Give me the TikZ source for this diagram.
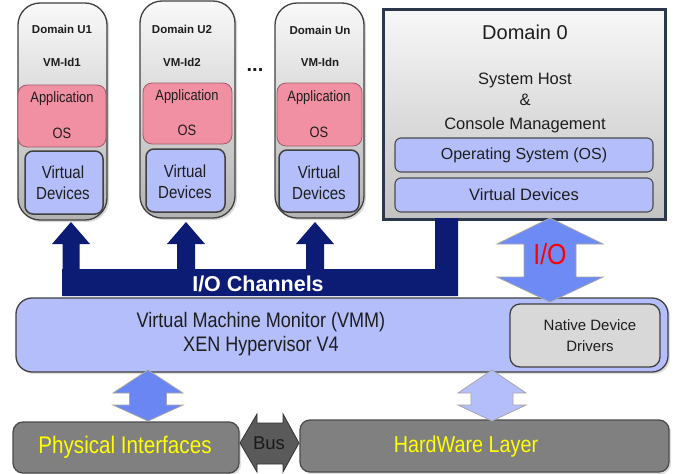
\documentclass[tikz,border=0pt]{standalone}
\usepackage{fontspec}
\setmainfont{Liberation Sans}
\newfontfamily\nsans{Liberation Sans}[FakeStretch=0.86]
\usetikzlibrary{shadows}
\definecolor{pinkfill}{RGB}{241,143,163}
\definecolor{lbfill}{RGB}{180,190,250}
\definecolor{navybar}{RGB}{12,28,116}
\definecolor{ioblue}{RGB}{110,139,245}
\definecolor{phyblue}{RGB}{106,134,242}
\definecolor{hwgray}{RGB}{128,128,128}
\definecolor{busgray}{RGB}{90,90,90}
\definecolor{ndgray}{RGB}{216,216,216}
\definecolor{dzborder}{RGB}{45,55,75}
\definecolor{txt}{RGB}{30,30,30}
\definecolor{hwyellow}{RGB}{255,255,0}
\newcommand\UpArw[6]{% cx, tip, headbase, bottom, headhalf, shafthalf
  \path[navyarrow] (#1,#2) -- ({#1+#5},#3) -- ({#1+#6},#3) -- ({#1+#6},#4) -- ({#1-#6},#4) -- ({#1-#6},#3) -- ({#1-#5},#3) -- cycle;}
\newcommand\DblArwV[8]{% style, cx, top, hb1, hb2, bottom, headhalf, shafthalf
  \path[#1] (#2,#3) -- ({#2+#7},#4) -- ({#2+#8},#4) -- ({#2+#8},#5) -- ({#2+#7},#5) -- (#2,#6) -- ({#2-#7},#5) -- ({#2-#8},#5) -- ({#2-#8},#4) -- ({#2-#7},#4) -- cycle;}
\tikzset{
  box/.style={anchor=north west, inner sep=0pt, outer sep=0pt},
  capsule/.style={box, draw=black!75, line width=1.3pt, rounded corners=22pt, top color=gray!5, bottom color=gray!60,
     drop shadow={opacity=0.3,shadow xshift=2pt,shadow yshift=-2pt}},
  pinkbox/.style={box, rounded corners=9pt, fill=pinkfill, draw=pinkfill!65!black, line width=0.8pt},
  vdbox/.style={box, rounded corners=8pt, fill=lbfill, draw=black!75, line width=1.5pt},
  dzbox/.style={box, rounded corners=6pt, fill=lbfill, draw=black!70, line width=1.1pt},
  lbl/.style={text=txt, inner sep=0pt, align=center},
  ulbl/.style={lbl, font=\fontsize{11.5}{13}\selectfont\bfseries},
  plbl/.style={lbl, font=\nsans\fontsize{15}{17}\selectfont},
  vlbl/.style={lbl, font=\nsans\fontsize{17.5}{20}\selectfont},
  navyarrow/.style={fill=navybar},
  ioarrow/.style={fill=ioblue, draw=gray!70, line width=0.8pt},
  phyarrow/.style={fill=phyblue, draw=gray!70, line width=0.8pt},
  hwarrow/.style={fill=lbfill, draw=gray!70, line width=0.8pt},
  busarrow/.style={fill=busgray, draw=black!80, line width=0.8pt},
  hwbox/.style={box, rounded corners=10pt, fill=hwgray, draw=black!70, line width=1.3pt,
     drop shadow={opacity=0.25,shadow xshift=2pt,shadow yshift=-2pt}},
  ylbl/.style={text=hwyellow, inner sep=0pt},
}
\begin{document}
\begin{tikzpicture}[x=1pt,y=-1pt]
\useasboundingbox (0,0) rectangle (675,474);
\fill[white] (0,0) rectangle (675,474);

% ---- Domain U capsules
\node[capsule, minimum width=89pt, minimum height=217pt] (u1) at (18,3) {};
\node[capsule, minimum width=95pt, minimum height=217pt] (u2) at (140,1) {};
\node[capsule, minimum width=89pt, minimum height=215pt] (un) at (275,3) {};

\node[pinkbox, minimum width=88pt, minimum height=62pt] (p1) at (18,85) {};
\node[pinkbox, minimum width=89pt, minimum height=61pt] (p2) at (143,83) {};
\node[pinkbox, minimum width=85pt, minimum height=63pt] (pn) at (277,83) {};

\node[vdbox, minimum width=78pt, minimum height=63pt] (v1) at (25,151) {};
\node[vdbox, minimum width=79pt, minimum height=63pt] (v2) at (146,149) {};
\node[vdbox, minimum width=80pt, minimum height=62pt] (vn) at (279,150) {};

\node[ulbl] (t1a) at (62,29) {Domain U1};
\node[ulbl] (t1b) at (62,62) {VM-Id1};
\node[plbl] (t1c) at (62,99) {Application};
\node[plbl] (t1d) at (62,133) {OS};
\node[vlbl] (t1e) at (63,172) {Virtual};
\node[vlbl] (t1f) at (63,193) {Devices};

\node[ulbl] (t2a) at (182,29) {Domain U2};
\node[ulbl] (t2b) at (182,62) {VM-Id2};
\node[plbl] (t2c) at (187,97) {Application};
\node[plbl] (t2d) at (187,130) {OS};
\node[vlbl] (t2e) at (185,171) {Virtual};
\node[vlbl] (t2f) at (185,192) {Devices};

\node[ulbl] (tna) at (320,30) {Domain Un};
\node[ulbl] (tnb) at (320,62) {VM-Idn};
\node[plbl] (tnc) at (319,98) {Application};
\node[plbl] (tnd) at (319,132) {OS};
\node[vlbl] (tne) at (319,172) {Virtual};
\node[vlbl] (tnf) at (319,193) {Devices};

\node[lbl, font=\fontsize{20}{22}\selectfont\bfseries] (dots) at (255,70) {...};

% ---- Domain 0
\node[box, minimum width=282pt, minimum height=210pt, top color=gray!6, bottom color=gray!48,
      draw=dzborder, line width=3pt, drop shadow={opacity=0.3,shadow xshift=2pt,shadow yshift=-2pt}] (d0) at (383,9) {};
\node[lbl, font=\fontsize{20}{22}\selectfont] (d0a) at (525,32) {Domain 0};
\node[lbl, font=\fontsize{16.5}{18}\selectfont] (d0b) at (525,80) {System Host};
\node[lbl, font=\fontsize{16.5}{18}\selectfont] (d0c) at (525,100) {\&};
\node[lbl, font=\fontsize{16.5}{18}\selectfont] (d0d) at (525,125) {Console Management};
\node[dzbox, minimum width=258pt, minimum height=34pt] (d0os) at (395,138) {};
\node[dzbox, minimum width=258pt, minimum height=34pt] (d0vd) at (395,178) {};
\node[lbl, font=\fontsize{16}{18}\selectfont] (d0ost) at (524,155) {Operating System (OS)};
\node[lbl, font=\fontsize{16.5}{18}\selectfont] (d0vdt) at (524,195) {Virtual Devices};

% ---- I/O channels
\path[navyarrow] (62,269) -- (435,269) -- (435,218) -- (458,218) -- (458,296) -- (62,296) -- cycle;
\UpArw{71}{222}{244}{270}{19}{8.5}
\UpArw{186}{222}{244}{270}{19}{9}
\UpArw{315}{222}{244}{270}{19}{9}
\node[inner sep=0pt, text=white, font=\fontsize{21.5}{23}\selectfont\bfseries] (ioc) at (258,284) {I/O Channels};

% ---- VMM
\node[box, minimum width=652pt, minimum height=74pt, rounded corners=16pt, fill=lbfill, draw=black!75, line width=1.3pt,
      drop shadow={opacity=0.25,shadow xshift=2pt,shadow yshift=-2pt}] (vmm) at (16,298) {};
\node[lbl, font=\nsans\fontsize{21}{23}\selectfont] (vmma) at (261,322) {Virtual Machine Monitor (VMM)};
\node[lbl, font=\nsans\fontsize{21}{23}\selectfont] (vmmb) at (261,346) {XEN Hypervisor V4};
\node[box, minimum width=150pt, minimum height=63pt, rounded corners=10pt, fill=ndgray, draw=black!75, line width=1.3pt] (ndd) at (510,304) {};
\node[lbl, font=\fontsize{15}{17}\selectfont] (ndda) at (590,325) {Native Device};
\node[lbl, font=\fontsize{15}{17}\selectfont] (nddb) at (590,346) {Drivers};

% ---- I/O double arrow
\DblArwV{ioarrow}{550}{218}{244}{277}{302}{53}{26}
\node[inner sep=0pt, text=red, font=\nsans\fontsize{29}{31}\selectfont] (io) at (550,254) {I/O};

% ---- Hardware
\node[hwbox, minimum width=226pt, minimum height=51pt] (phy) at (13,422) {};
\node[hwbox, minimum width=369pt, minimum height=52pt] (hw) at (300,420) {};
\node[ylbl, font=\nsans\fontsize{24}{26}\selectfont] (phyt) at (125,447) {Physical Interfaces};
\node[ylbl, font=\nsans\fontsize{23}{25}\selectfont] (hwt) at (466,447) {HardWare Layer};

\DblArwV{phyarrow}{148}{370}{393}{405}{421}{35}{18.5}
\DblArwV{hwarrow}{492}{370}{393}{405}{421}{34}{21}

% Bus
\path[busarrow] (240,443) -- (257,414) -- (257,423) -- (283,423) -- (283,414) -- (299,443)
   -- (283,472) -- (283,464) -- (257,464) -- (257,472) -- cycle;
\node[inner sep=0pt, text=black!90, font=\fontsize{18.5}{20}\selectfont] (bus) at (269,443) {Bus};
\end{tikzpicture}
\end{document}
